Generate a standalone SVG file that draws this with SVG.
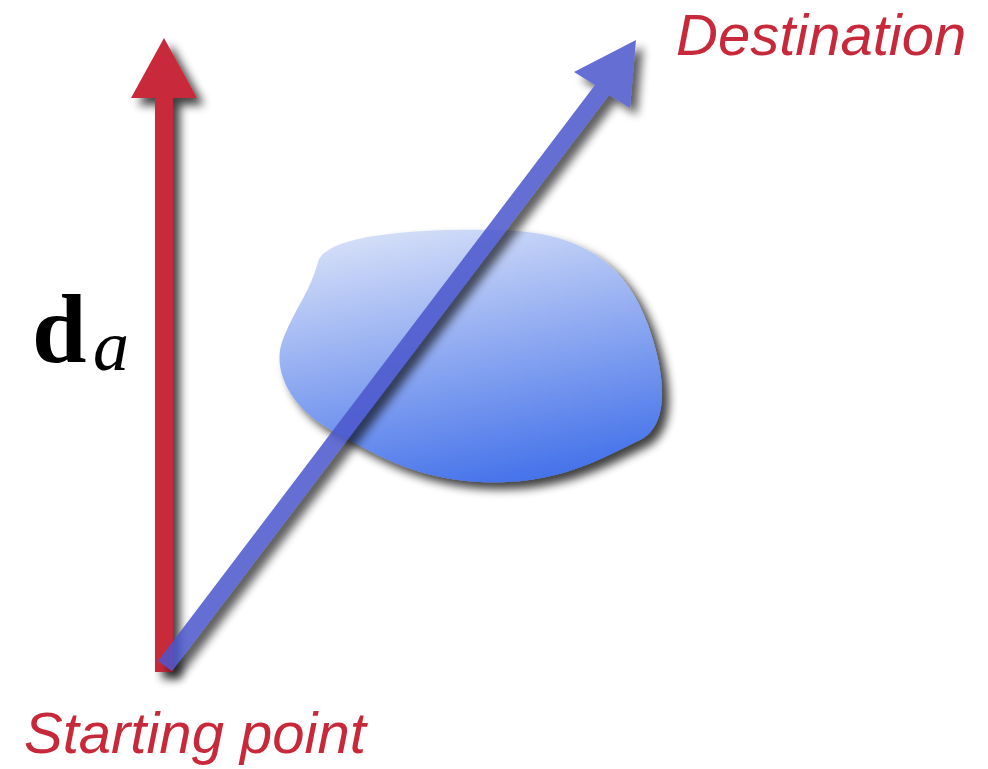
<svg xmlns="http://www.w3.org/2000/svg" width="988" height="769" viewBox="0 0 988 769">
<style>
.lbl{font-family:"Liberation Sans",Arial,sans-serif;font-style:italic;font-size:58px;fill:#c8293a}
</style>
<defs>
<filter id="sh" x="-20%" y="-20%" width="150%" height="150%">
<feGaussianBlur in="SourceAlpha" stdDeviation="5"/>
<feOffset dx="7" dy="7" result="b"/>
<feComponentTransfer><feFuncA type="linear" slope="0.75"/></feComponentTransfer>
<feMerge><feMergeNode/><feMergeNode in="SourceGraphic"/></feMerge>
</filter>
<linearGradient id="bg" x1="0.3" y1="0" x2="0.6" y2="1">
<stop offset="0" stop-color="#d4def8"/>
<stop offset="1" stop-color="#4673ea"/>
</linearGradient>
</defs>
<rect width="988" height="769" fill="#ffffff"/>
<g id="blob" filter="url(#sh)">
<path d="M 318,262 C 326,234 420,228 500,230 C 580,232 625,262 648,325 C 666,375 670,425 640,440 C 605,456 560,486 480,482 C 420,479 380,458 335,432 C 292,410 272,372 282,342 C 294,310 310,292 318,262 Z" fill="url(#bg)"/>
</g>
<g id="connectors">
<g id="red-arrow" filter="url(#sh)">
<path d="M 155,672 L 155,98 L 131,98 L 164,38 L 197,98 L 173,98 L 173,672 Z" fill="#c8293a"/>
</g>
<g id="blue-arrow" filter="url(#sh)" opacity="0.85">
<path d="M 158,661 L 595,85 L 574,72 L 636,40 L 630,108 L 609,95 L 172,671 Z" fill="#4b56cc"/>
</g>
</g>
<g id="label-da">
<text x="32" y="362" font-family="Liberation Serif,Times New Roman,serif" font-weight="bold" font-size="98" fill="#000">d</text>
<text x="93" y="370" font-family="Liberation Serif,Times New Roman,serif" font-style="italic" font-size="72" fill="#000">a</text>
</g>
<g id="destination"><text class="lbl" x="676" y="55">Destination</text></g>
<g id="start"><text class="lbl" x="24" y="753">Starting point</text></g>
</svg>
